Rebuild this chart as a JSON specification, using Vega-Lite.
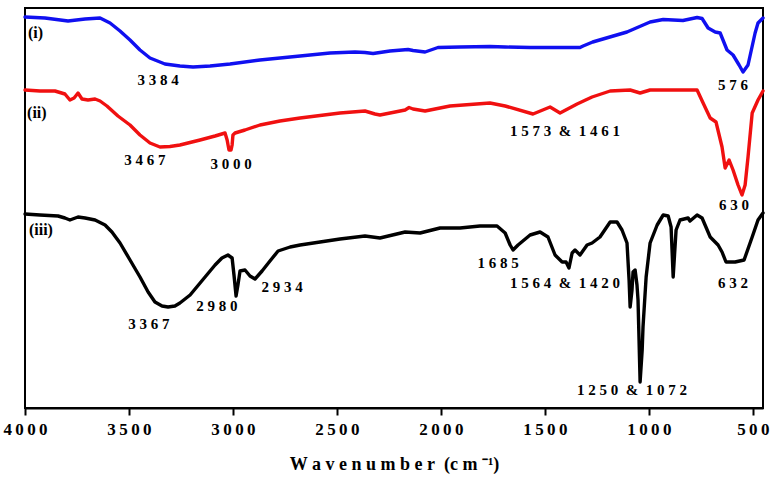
{
  "$schema": "https://vega.github.io/schema/vega-lite/v6.json",
  "autosize": {"type": "none"},
  "width": 738,
  "height": 400,
  "padding": {"left": 25, "top": 8, "right": 8, "bottom": 70},
  "background": "white",
  "config": {
    "view": {"stroke": "black", "strokeWidth": 2},
    "font": "Liberation Serif"
  },
  "datasets": {
    "spectra": [
      {"s": "i", "wn": 4000, "t": 391}, {"s": "i", "wn": 3904, "t": 390}, {"s": "i", "wn": 3793, "t": 387}, {"s": "i", "wn": 3711, "t": 389},
      {"s": "i", "wn": 3639, "t": 390}, {"s": "i", "wn": 3591, "t": 385}, {"s": "i", "wn": 3543, "t": 377}, {"s": "i", "wn": 3495, "t": 368},
      {"s": "i", "wn": 3447, "t": 358}, {"s": "i", "wn": 3399, "t": 350}, {"s": "i", "wn": 3327, "t": 344}, {"s": "i", "wn": 3255, "t": 342},
      {"s": "i", "wn": 3192, "t": 341}, {"s": "i", "wn": 3110, "t": 342}, {"s": "i", "wn": 3014, "t": 344}, {"s": "i", "wn": 2870, "t": 348},
      {"s": "i", "wn": 2677, "t": 352}, {"s": "i", "wn": 2533, "t": 355}, {"s": "i", "wn": 2413, "t": 356}, {"s": "i", "wn": 2365, "t": 355.5},
      {"s": "i", "wn": 2326, "t": 354.5}, {"s": "i", "wn": 2245, "t": 357}, {"s": "i", "wn": 2158, "t": 358.5}, {"s": "i", "wn": 2134, "t": 357.5},
      {"s": "i", "wn": 2076, "t": 356}, {"s": "i", "wn": 2014, "t": 360.5}, {"s": "i", "wn": 1908, "t": 361}, {"s": "i", "wn": 1764, "t": 361.5},
      {"s": "i", "wn": 1691, "t": 361}, {"s": "i", "wn": 1571, "t": 360.5}, {"s": "i", "wn": 1427, "t": 360.5}, {"s": "i", "wn": 1331, "t": 360.5},
      {"s": "i", "wn": 1316, "t": 362}, {"s": "i", "wn": 1270, "t": 366}, {"s": "i", "wn": 1105, "t": 376}, {"s": "i", "wn": 994, "t": 386},
      {"s": "i", "wn": 931, "t": 388.5}, {"s": "i", "wn": 836, "t": 387.5}, {"s": "i", "wn": 768, "t": 390.5}, {"s": "i", "wn": 744, "t": 389.5},
      {"s": "i", "wn": 715, "t": 380}, {"s": "i", "wn": 681, "t": 376}, {"s": "i", "wn": 657, "t": 375}, {"s": "i", "wn": 624, "t": 358},
      {"s": "i", "wn": 595, "t": 353}, {"s": "i", "wn": 566, "t": 343}, {"s": "i", "wn": 547, "t": 336}, {"s": "i", "wn": 523, "t": 343},
      {"s": "i", "wn": 489, "t": 375}, {"s": "i", "wn": 475, "t": 385}, {"s": "i", "wn": 451, "t": 390},

      {"s": "ii", "wn": 4000, "t": 318}, {"s": "ii", "wn": 3928, "t": 317}, {"s": "ii", "wn": 3856, "t": 317}, {"s": "ii", "wn": 3808, "t": 314},
      {"s": "ii", "wn": 3784, "t": 308}, {"s": "ii", "wn": 3764, "t": 310}, {"s": "ii", "wn": 3745, "t": 315}, {"s": "ii", "wn": 3726, "t": 309},
      {"s": "ii", "wn": 3697, "t": 308}, {"s": "ii", "wn": 3663, "t": 309}, {"s": "ii", "wn": 3639, "t": 307}, {"s": "ii", "wn": 3606, "t": 302},
      {"s": "ii", "wn": 3553, "t": 292}, {"s": "ii", "wn": 3495, "t": 283}, {"s": "ii", "wn": 3447, "t": 273}, {"s": "ii", "wn": 3399, "t": 265},
      {"s": "ii", "wn": 3351, "t": 261}, {"s": "ii", "wn": 3303, "t": 261.5}, {"s": "ii", "wn": 3255, "t": 263}, {"s": "ii", "wn": 3158, "t": 268},
      {"s": "ii", "wn": 3086, "t": 272}, {"s": "ii", "wn": 3038, "t": 275}, {"s": "ii", "wn": 3028, "t": 268}, {"s": "ii", "wn": 3019, "t": 258},
      {"s": "ii", "wn": 3009, "t": 258}, {"s": "ii", "wn": 3004, "t": 263}, {"s": "ii", "wn": 3000, "t": 273}, {"s": "ii", "wn": 2990, "t": 275},
      {"s": "ii", "wn": 2942, "t": 278}, {"s": "ii", "wn": 2870, "t": 283}, {"s": "ii", "wn": 2774, "t": 287}, {"s": "ii", "wn": 2677, "t": 290},
      {"s": "ii", "wn": 2485, "t": 295}, {"s": "ii", "wn": 2365, "t": 297}, {"s": "ii", "wn": 2317, "t": 294}, {"s": "ii", "wn": 2293, "t": 293},
      {"s": "ii", "wn": 2220, "t": 296}, {"s": "ii", "wn": 2172, "t": 298}, {"s": "ii", "wn": 2153, "t": 300.5}, {"s": "ii", "wn": 2134, "t": 299},
      {"s": "ii", "wn": 2076, "t": 297}, {"s": "ii", "wn": 1956, "t": 302}, {"s": "ii", "wn": 1764, "t": 305}, {"s": "ii", "wn": 1691, "t": 302},
      {"s": "ii", "wn": 1557, "t": 294}, {"s": "ii", "wn": 1475, "t": 301}, {"s": "ii", "wn": 1427, "t": 295}, {"s": "ii", "wn": 1345, "t": 304},
      {"s": "ii", "wn": 1273, "t": 311}, {"s": "ii", "wn": 1186, "t": 317}, {"s": "ii", "wn": 1090, "t": 318}, {"s": "ii", "wn": 1042, "t": 315},
      {"s": "ii", "wn": 994, "t": 318}, {"s": "ii", "wn": 898, "t": 318}, {"s": "ii", "wn": 802, "t": 318}, {"s": "ii", "wn": 768, "t": 318},
      {"s": "ii", "wn": 739, "t": 305}, {"s": "ii", "wn": 705, "t": 290}, {"s": "ii", "wn": 677, "t": 286}, {"s": "ii", "wn": 648, "t": 261},
      {"s": "ii", "wn": 633, "t": 240}, {"s": "ii", "wn": 614, "t": 248}, {"s": "ii", "wn": 595, "t": 238}, {"s": "ii", "wn": 571, "t": 223},
      {"s": "ii", "wn": 552, "t": 213}, {"s": "ii", "wn": 537, "t": 223}, {"s": "ii", "wn": 523, "t": 251}, {"s": "ii", "wn": 503, "t": 295},
      {"s": "ii", "wn": 475, "t": 308}, {"s": "ii", "wn": 451, "t": 317},

      {"s": "iii", "wn": 4000, "t": 194}, {"s": "iii", "wn": 3928, "t": 193}, {"s": "iii", "wn": 3841, "t": 192}, {"s": "iii", "wn": 3808, "t": 190},
      {"s": "iii", "wn": 3784, "t": 188}, {"s": "iii", "wn": 3745, "t": 191}, {"s": "iii", "wn": 3711, "t": 190}, {"s": "iii", "wn": 3663, "t": 188},
      {"s": "iii", "wn": 3615, "t": 183}, {"s": "iii", "wn": 3582, "t": 176}, {"s": "iii", "wn": 3543, "t": 165}, {"s": "iii", "wn": 3495, "t": 148},
      {"s": "iii", "wn": 3447, "t": 131}, {"s": "iii", "wn": 3408, "t": 116}, {"s": "iii", "wn": 3375, "t": 106}, {"s": "iii", "wn": 3341, "t": 102},
      {"s": "iii", "wn": 3312, "t": 101}, {"s": "iii", "wn": 3279, "t": 102}, {"s": "iii", "wn": 3255, "t": 105}, {"s": "iii", "wn": 3206, "t": 113},
      {"s": "iii", "wn": 3158, "t": 125}, {"s": "iii", "wn": 3086, "t": 143}, {"s": "iii", "wn": 3053, "t": 150}, {"s": "iii", "wn": 3024, "t": 153},
      {"s": "iii", "wn": 3004, "t": 150}, {"s": "iii", "wn": 2995, "t": 133}, {"s": "iii", "wn": 2985, "t": 112}, {"s": "iii", "wn": 2976, "t": 123},
      {"s": "iii", "wn": 2966, "t": 137}, {"s": "iii", "wn": 2942, "t": 138}, {"s": "iii", "wn": 2918, "t": 132}, {"s": "iii", "wn": 2894, "t": 129},
      {"s": "iii", "wn": 2860, "t": 137}, {"s": "iii", "wn": 2822, "t": 147}, {"s": "iii", "wn": 2783, "t": 157}, {"s": "iii", "wn": 2725, "t": 161},
      {"s": "iii", "wn": 2677, "t": 163}, {"s": "iii", "wn": 2581, "t": 166}, {"s": "iii", "wn": 2485, "t": 169}, {"s": "iii", "wn": 2365, "t": 172},
      {"s": "iii", "wn": 2293, "t": 170}, {"s": "iii", "wn": 2172, "t": 176}, {"s": "iii", "wn": 2100, "t": 175}, {"s": "iii", "wn": 2004, "t": 180},
      {"s": "iii", "wn": 1908, "t": 180}, {"s": "iii", "wn": 1812, "t": 182}, {"s": "iii", "wn": 1730, "t": 182}, {"s": "iii", "wn": 1691, "t": 175},
      {"s": "iii", "wn": 1667, "t": 163}, {"s": "iii", "wn": 1653, "t": 158}, {"s": "iii", "wn": 1629, "t": 163}, {"s": "iii", "wn": 1571, "t": 173},
      {"s": "iii", "wn": 1523, "t": 176}, {"s": "iii", "wn": 1485, "t": 171}, {"s": "iii", "wn": 1451, "t": 153}, {"s": "iii", "wn": 1417, "t": 146},
      {"s": "iii", "wn": 1398, "t": 146}, {"s": "iii", "wn": 1384, "t": 140}, {"s": "iii", "wn": 1369, "t": 155}, {"s": "iii", "wn": 1355, "t": 158},
      {"s": "iii", "wn": 1331, "t": 153}, {"s": "iii", "wn": 1297, "t": 163}, {"s": "iii", "wn": 1273, "t": 165}, {"s": "iii", "wn": 1235, "t": 171},
      {"s": "iii", "wn": 1186, "t": 186}, {"s": "iii", "wn": 1153, "t": 186}, {"s": "iii", "wn": 1129, "t": 178}, {"s": "iii", "wn": 1105, "t": 165},
      {"s": "iii", "wn": 1095, "t": 128}, {"s": "iii", "wn": 1090, "t": 101}, {"s": "iii", "wn": 1081, "t": 118}, {"s": "iii", "wn": 1076, "t": 136},
      {"s": "iii", "wn": 1066, "t": 138}, {"s": "iii", "wn": 1057, "t": 123}, {"s": "iii", "wn": 1052, "t": 108}, {"s": "iii", "wn": 1042, "t": 26},
      {"s": "iii", "wn": 1032, "t": 58}, {"s": "iii", "wn": 1028, "t": 81}, {"s": "iii", "wn": 1013, "t": 131}, {"s": "iii", "wn": 994, "t": 165},
      {"s": "iii", "wn": 960, "t": 183}, {"s": "iii", "wn": 931, "t": 193}, {"s": "iii", "wn": 907, "t": 192}, {"s": "iii", "wn": 893, "t": 181},
      {"s": "iii", "wn": 883, "t": 131}, {"s": "iii", "wn": 869, "t": 178}, {"s": "iii", "wn": 850, "t": 188}, {"s": "iii", "wn": 811, "t": 190},
      {"s": "iii", "wn": 802, "t": 187}, {"s": "iii", "wn": 768, "t": 193}, {"s": "iii", "wn": 744, "t": 190}, {"s": "iii", "wn": 705, "t": 171},
      {"s": "iii", "wn": 667, "t": 163}, {"s": "iii", "wn": 648, "t": 156}, {"s": "iii", "wn": 629, "t": 146}, {"s": "iii", "wn": 585, "t": 146},
      {"s": "iii", "wn": 542, "t": 148}, {"s": "iii", "wn": 503, "t": 171}, {"s": "iii", "wn": 475, "t": 188}, {"s": "iii", "wn": 451, "t": 195}
    ],
    "tags": [
      {"label": "(i)", "wn": 3986, "t": 375},
      {"label": "(ii)", "wn": 3990, "t": 295},
      {"label": "(iii)", "wn": 3981, "t": 178}
    ],
    "peaks": [
      {"label": "3384", "wn": 3360, "t": 328},
      {"label": "3467", "wn": 3423, "t": 248},
      {"label": "3000", "wn": 3009, "t": 244},
      {"label": "3367", "wn": 3404, "t": 84},
      {"label": "2980", "wn": 3077, "t": 102},
      {"label": "2934", "wn": 2764, "t": 121},
      {"label": "1685", "wn": 1725, "t": 145},
      {"label": "1564 & 1420", "wn": 1403, "t": 125},
      {"label": "1573 & 1461", "wn": 1403, "t": 277},
      {"label": "576", "wn": 595, "t": 323},
      {"label": "630", "wn": 590, "t": 203},
      {"label": "632", "wn": 595, "t": 125},
      {"label": "1250 & 1072", "wn": 1081, "t": 18}
    ]
  },
  "layer": [
    {
      "data": {"name": "spectra"},
      "mark": {"type": "line", "strokeWidth": 3.4, "strokeJoin": "round", "strokeCap": "round"},
      "encoding": {
        "x": {
          "field": "wn", "type": "quantitative",
          "scale": {"domain": [451, 4000], "reverse": true, "nice": false, "zero": false},
          "axis": {
            "values": [4000, 3500, 3000, 2500, 2000, 1500, 1000, 500],
            "format": "d",
            "grid": false,
            "domainColor": "black", "domainWidth": 2,
            "tickColor": "black", "tickWidth": 2, "tickSize": 7,
            "labelFont": "Liberation Serif", "labelFontWeight": "bold", "labelFontSize": 17,
            "labelColor": "black", "labelPadding": 6, "labelFlush": false, "labelOverlap": false,
            "labelExpr": "join(split(datum.label, ''), '\u2009')",
            "title": "W a v e n u m b e r\u00a0\u00a0(c m\u00a0\u207b\u00b9)",
            "titleFont": "Liberation Serif", "titleFontWeight": "bold", "titleFontSize": 18,
            "titleColor": "black", "titlePadding": 18
          }
        },
        "y": {
          "field": "t", "type": "quantitative",
          "scale": {"domain": [0, 400], "nice": false, "zero": false},
          "axis": null
        },
        "color": {
          "field": "s", "type": "nominal",
          "scale": {"domain": ["i", "ii", "iii"], "range": ["#1010f0", "#f01010", "#000000"]},
          "legend": null
        }
      }
    },
    {
      "data": {"name": "tags"},
      "mark": {"type": "text", "align": "left", "baseline": "middle", "font": "Liberation Serif", "fontWeight": "bold", "fontSize": 16, "color": "black"},
      "encoding": {
        "x": {"field": "wn", "type": "quantitative"},
        "y": {"field": "t", "type": "quantitative"},
        "text": {"field": "label"}
      }
    },
    {
      "data": {"name": "peaks"},
      "transform": [{"calculate": "replace(join(split(datum.label, ''), ' '), /   &   /, '\u00a0\u00a0&\u00a0\u00a0')", "as": "shown"}],
      "mark": {"type": "text", "align": "center", "baseline": "middle", "font": "Liberation Serif", "fontWeight": "bold", "fontSize": 15, "color": "black"},
      "encoding": {
        "x": {"field": "wn", "type": "quantitative"},
        "y": {"field": "t", "type": "quantitative"},
        "text": {"field": "shown"}
      }
    }
  ]
}
